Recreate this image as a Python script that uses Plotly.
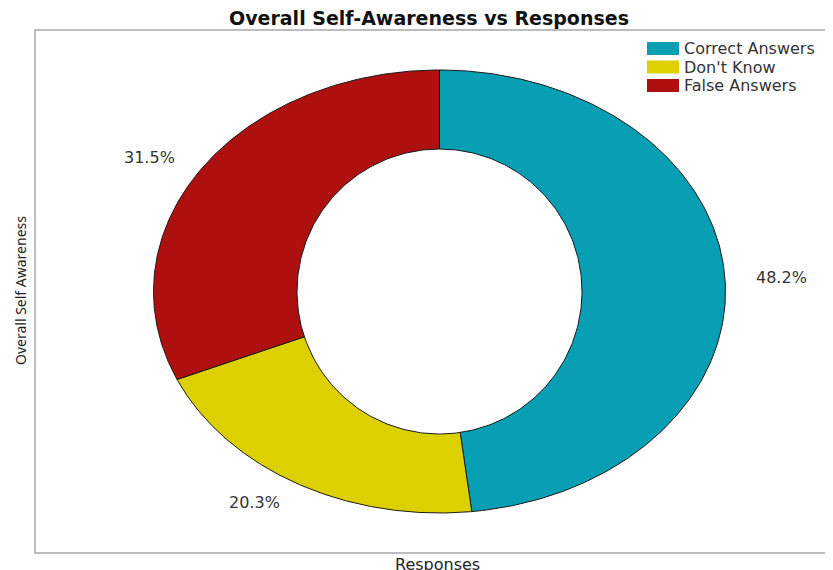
import numpy as np
import plotly.graph_objects as go

categories = ["Correct Answers", "Don't Know", "False Answers"]
values = [48.2, 20.3, 31.5]
colors = ["#089EB3", "#DDD000", "#AE1010"]

W, H = 833, 570
OFF = 8  # default page margin of the html body
cx, cy = 439.5, 291.5
rx_out, ry_out = 286, 221.5
r_hole = 142.5

fig = go.Figure()
total = sum(values)
start = 0.0
for name, v, c in zip(categories, values, colors):
    a0 = start / total * 2 * np.pi
    a1 = (start + v) / total * 2 * np.pi
    t = np.linspace(a0, a1, 240)
    xo = cx + rx_out * np.sin(t)
    yo = cy - ry_out * np.cos(t)
    xs = np.concatenate([[cx], xo, [cx]])
    ys = np.concatenate([[cy], yo, [cy]])
    fig.add_trace(go.Scatter(x=xs, y=ys, mode="lines", fill="toself",
                             fillcolor=c, line=dict(color="#1a1a1a", width=1),
                             name=name, showlegend=False, hoverinfo="skip"))
    am = (start + v / 2) / total * 2 * np.pi
    sx = np.sin(am)
    fig.add_annotation(x=cx + 1.1 * rx_out * sx, y=cy - 1.1 * ry_out * np.cos(am),
                       text=f"{v}%", showarrow=False, xref="x", yref="y",
                       xanchor="left" if sx > 0 else "right", yanchor="middle",
                       font=dict(family="DejaVu Sans", size=16, color="#333333"))
    start += v

# centre hole
th = np.linspace(0, 2 * np.pi, 400)
fig.add_trace(go.Scatter(x=cx + r_hole * np.sin(th), y=cy - r_hole * np.cos(th), mode="lines",
                         fill="toself", fillcolor="white", line=dict(color="#1a1a1a", width=1),
                         showlegend=False, hoverinfo="skip"))

# legend
for i, (name, c) in enumerate(zip(categories, colors)):
    y0 = 42 + i * 18.5
    fig.add_shape(type="rect", xref="x", yref="y", x0=647, x1=679, y0=y0, y1=y0 + 13,
                  fillcolor=c, line=dict(width=0))
    fig.add_annotation(x=682, y=y0 + 6.5, xref="x", yref="y", text=name, showarrow=False,
                       xanchor="left", yanchor="middle",
                       font=dict(family="DejaVu Sans", size=16, color="#333333"))

# plot frame
fig.add_shape(type="rect", xref="x", yref="y", x0=35, x1=845, y0=30, y1=553,
              line=dict(color="#A8A8A8", width=1.5), fillcolor="rgba(0,0,0,0)", layer="below")

fig.add_annotation(x=429, y=18, xref="x", yref="y", text="<b>Overall Self-Awareness vs Responses</b>",
                   showarrow=False, font=dict(family="DejaVu Sans", size=19, color="#111111"))
fig.add_annotation(x=20, y=291, xref="x", yref="y", text="Overall Self Awareness", textangle=-90,
                   showarrow=False, font=dict(family="Noto Sans", size=14, color="#222222"))
fig.add_annotation(x=437, y=564, xref="x", yref="y", text="Responses",
                   showarrow=False, font=dict(family="DejaVu Sans", size=16, color="#222222"))

fig.update_layout(width=W - OFF, height=H - OFF, margin=dict(l=0, r=0, t=0, b=0),
                  paper_bgcolor="white", plot_bgcolor="white", showlegend=False)
fig.update_xaxes(range=[OFF, W], visible=False, fixedrange=True)
fig.update_yaxes(range=[H, OFF], visible=False, fixedrange=True)
fig.write_html("out.html")
